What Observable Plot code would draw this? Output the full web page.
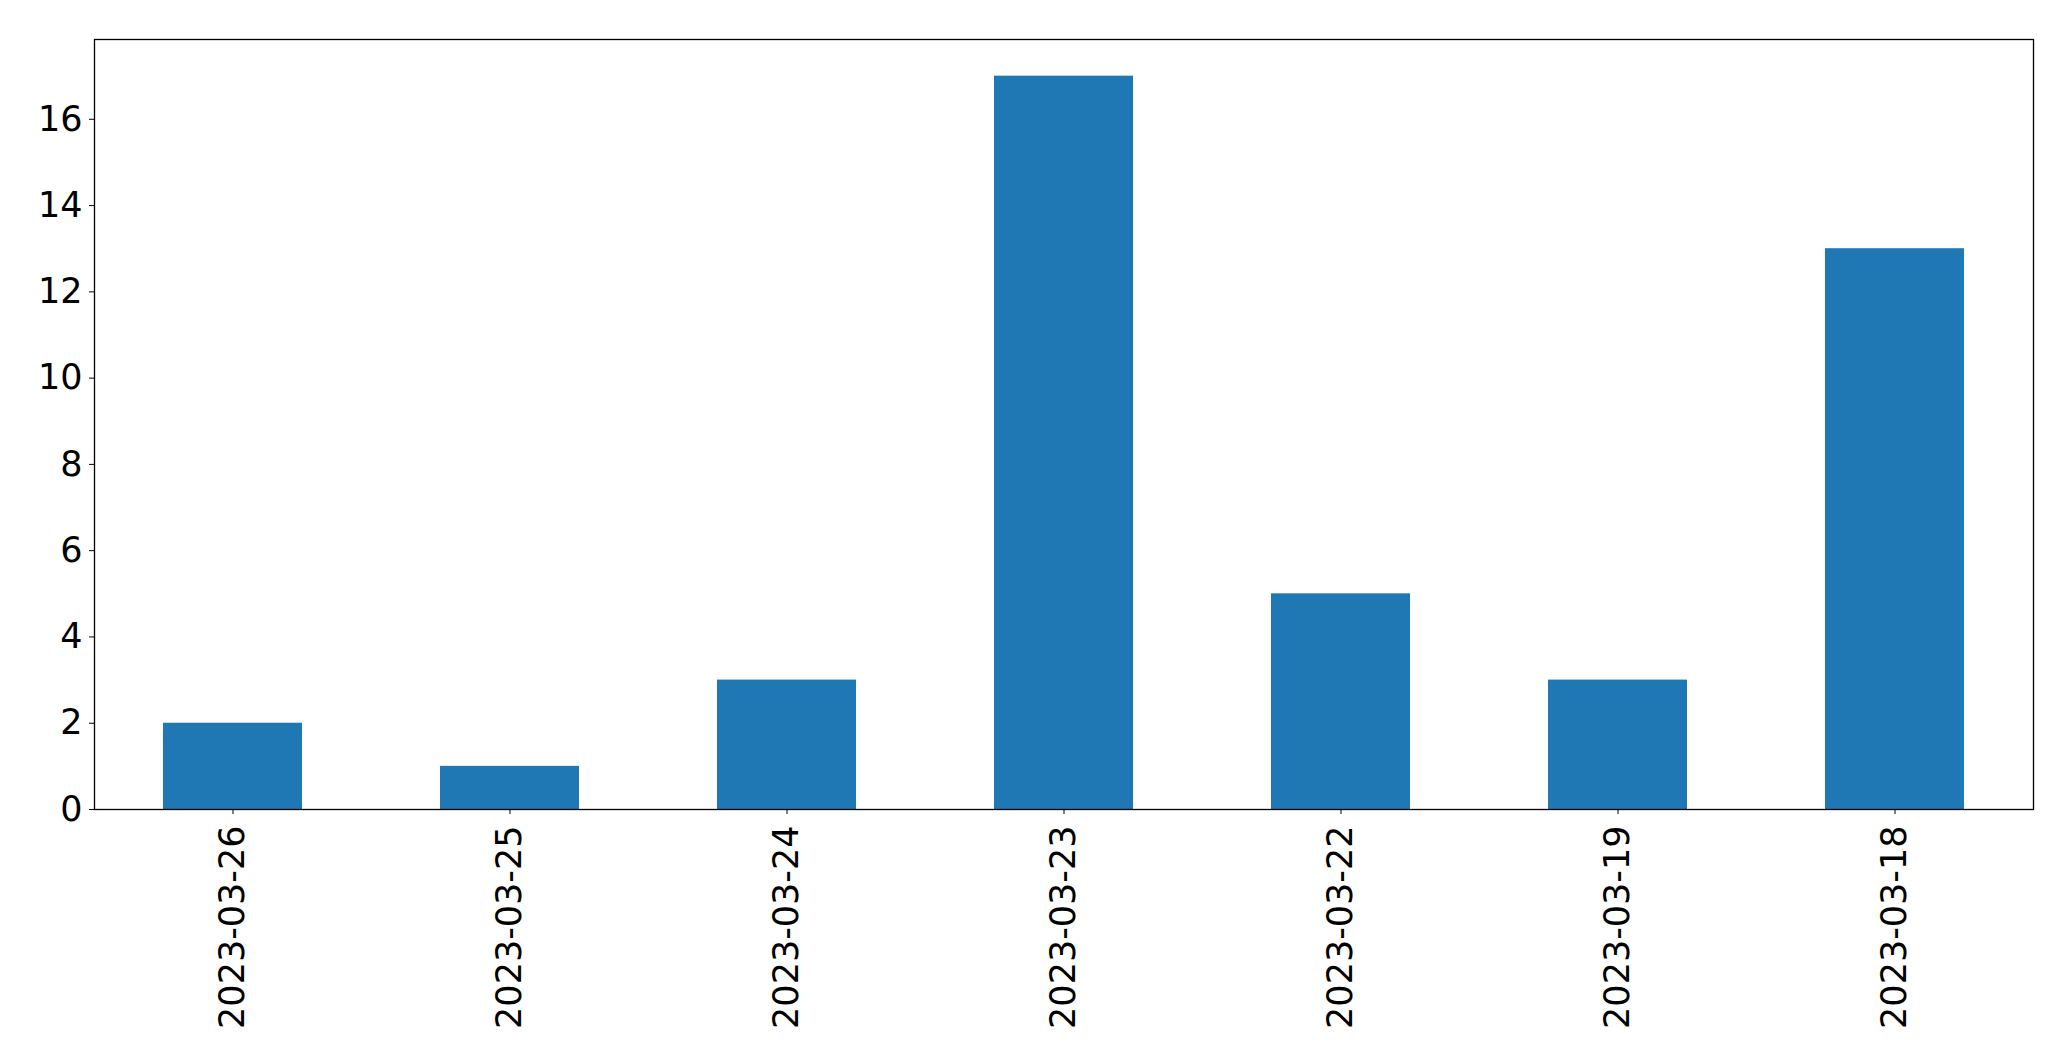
<!DOCTYPE html>
<html>
<head>
<meta charset="utf-8">
<script src="https://cdn.jsdelivr.net/npm/d3@7"></script>
<script src="https://cdn.jsdelivr.net/npm/@observablehq/plot@0.6"></script>
<style>
  html, body { margin: 0; padding: 0; background: #fff; }
  #chart svg { display: block; }
</style>
</head>
<body>
<div id="chart"></div>
<script>
const dates = ["2023-03-26", "2023-03-25", "2023-03-24", "2023-03-23", "2023-03-22", "2023-03-19", "2023-03-18"];
const counts = [2, 1, 3, 17, 5, 3, 13];
const yTicks = [0, 2, 4, 6, 8, 10, 12, 14, 16];

const data = dates.map((d, i) => ({date: d, count: counts[i]}));

const chart = Plot.plot({
  width: 2071,
  height: 1061,
  marginLeft: 94,
  marginRight: 38,
  marginTop: 39,
  marginBottom: 252,
  style: {fontFamily: "DejaVu Sans", fontSize: "35px", color: "#000", background: "#fff"},
  x: {domain: dates, paddingInner: 0.5, paddingOuter: 0.25, label: null},
  y: {domain: [0, 17.85], label: null},
  marks: [
    Plot.barY(data, {x: "date", y: "count", fill: "#1f77b4"}),
    Plot.frame({stroke: "#000", strokeWidth: 1.3}),
    Plot.axisY({ticks: yTicks, tickSize: 5, tickPadding: 7, tickFormat: d => String(d), label: null, fontSize: 35}),
    Plot.axisX({tickSize: 5, tickRotate: -90, tickPadding: 11, label: null, fontSize: 35})
  ]
});
document.getElementById("chart").appendChild(chart);
</script>
</body>
</html>
